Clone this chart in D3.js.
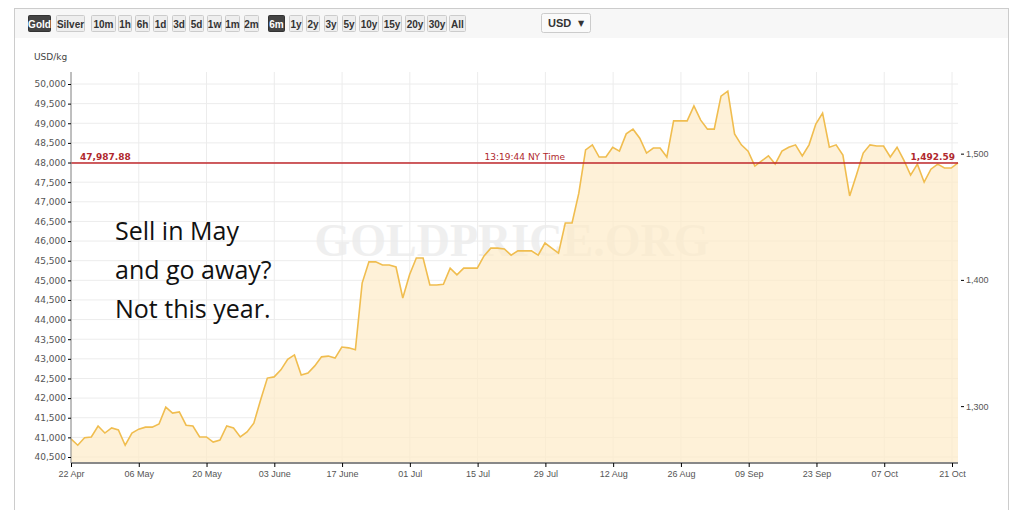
<!DOCTYPE html>
<html><head><meta charset="utf-8">
<script src="https://cdn.jsdelivr.net/npm/d3@7"></script>
<style>body{margin:0;background:#fff;}svg{font-family:"DejaVu Sans",Verdana,sans-serif;}</style>
</head><body>
<svg id="c" width="1024" height="510"></svg>
<script>
const values = [40960,40800,40990,41010,41290,41110,41240,41190,40800,41110,41210,41260,41260,41340,41770,41620,41650,41310,41290,41010,41010,40880,40930,41290,41240,41010,41140,41360,41950,42510,42540,42720,42990,43100,42590,42640,42820,43050,43070,43020,43300,43280,43230,44930,45470,45470,45390,45390,45340,44550,45140,45570,45570,44880,44880,44900,45310,45140,45310,45310,45310,45620,45820,45820,45800,45640,45750,45750,45750,45640,45950,45820,45690,46460,46460,47220,48320,48450,48140,48140,48390,48290,48730,48850,48620,48240,48370,48370,48140,49060,49060,49060,49440,49080,48850,48850,49690,49820,48730,48450,48290,47910,48040,48170,47960,48290,48390,48450,48170,48450,48980,49260,48390,48450,48190,47150,47680,48240,48450,48420,48420,48140,48390,48060,47680,47960,47500,47830,47960,47860,47860,47990];
const tickLabels = ["22 Apr","06 May","20 May","03 June","17 June","01 Jul","15 Jul","29 Jul","12 Aug","26 Aug","09 Sep","23 Sep","07 Oct","21 Oct"];
const leftTicks = [40500,41000,41500,42000,42500,43000,43500,44000,44500,45000,45500,46000,46500,47000,47500,48000,48500,49000,49500,50000];
const rightTicks = [1300,1400,1500];
const buttons = ["Gold","Silver","10m","1h","6h","1d","3d","5d","1w","1m","2m","6m","1y","2y","3y","5y","10y","15y","20y","30y","All"];
const btnX = [28,56,91,118,135,153,172,189,207,225,244,268,289,306,324,342,359,382,405,427,449];
const btnW = [22,28,24,13,14,14,13,14,14,14,14,16,13,13,13,13,19,19,19,19,16];
const currentKg = 47987.88, currentOz = 1492.59;
const annotation = ["Sell in May","and go away?","Not this year."];

const svg = d3.select("#c");
const L=71, R=958, B=463;
const start = new Date(2019,3,22), endTick = new Date(2019,9,21);
const x = d3.scaleTime().domain([start, endTick]).range([71,952]);
const endDate = x.invert(R);
const y = d3.scaleLinear().domain([40500,50000]).range([457,84]);
const yR = d3.scaleLinear().domain([40500/32.1507,50000/32.1507]).range([457,84]);
const dates = values.map((v,i)=>new Date(+start + i*(endDate-start)/(values.length-1)));

// frame
svg.append("rect").attr("x",14.5).attr("y",8.5).attr("width",994).attr("height",510).attr("fill","none").attr("stroke","#ccc");
svg.append("rect").attr("x",15).attr("y",9).attr("width",993).attr("height",29).attr("fill","#f7f7f7");
// buttons
const bg = svg.append("g");
buttons.forEach((b,i)=>{
  const dark = b==="Gold"||b==="6m";
  bg.append("rect").attr("x",btnX[i]+0.5).attr("y",15.5).attr("width",btnW[i]).attr("height",16).attr("rx",1)
    .attr("fill",dark?"#444":"#eee").attr("stroke",dark?"#333":"#ccc");
  bg.append("text").attr("x",btnX[i]+btnW[i]/2+0.5).attr("y",27.5).attr("text-anchor","middle")
    .attr("font-size",10).attr("font-weight","bold").attr("font-family","Liberation Sans,Arial")
    .attr("fill",dark?"#fff":"#333").text(b);
});
bg.append("rect").attr("x",541.5).attr("y",13.5).attr("width",49).attr("height",19).attr("rx",2).attr("fill","#fafafa").attr("stroke","#ccc");
bg.append("text").attr("x",548).attr("y",27).attr("font-size",11).attr("font-weight","bold").attr("font-family","Liberation Sans,Arial").attr("fill","#333").text("USD");
bg.append("text").attr("x",578).attr("y",26).attr("font-size",8).attr("fill","#333").text("▼");

svg.append("text").attr("x",34).attr("y",60).attr("font-size",9).attr("fill","#444").text("USD/kg");

// grid
const dTicks = tickLabels.map((t,i)=>d3.timeDay.offset(start,14*i));
svg.append("g").selectAll("line").data(leftTicks).join("line")
  .attr("x1",L).attr("x2",R).attr("y1",d=>y(d)).attr("y2",d=>y(d)).attr("stroke","#ececec");
svg.append("g").selectAll("line").data(dTicks).join("line")
  .attr("x1",d=>x(d)).attr("x2",d=>x(d)).attr("y1",72).attr("y2",B).attr("stroke","#ececec");

// watermark
svg.append("text").attr("x",512).attr("y",256).attr("text-anchor","middle").attr("font-size",46)
  .attr("font-family","Liberation Serif,serif").attr("font-weight","bold").attr("fill","#ececec").attr("opacity",0.8).text("GOLDPRICE.ORG");

// area + line
const area = d3.area().x((d,i)=>x(dates[i])).y0(B).y1(d=>y(d));
svg.append("path").datum(values).attr("d",area).attr("fill","#fdebc8").attr("opacity",0.7);
const line = d3.line().x((d,i)=>x(dates[i])).y(d=>y(d));
svg.append("path").datum(values).attr("d",line).attr("fill","none").attr("stroke","#f0bd4f").attr("stroke-width",1.6);

// current line
svg.append("line").attr("x1",L).attr("x2",R).attr("y1",y(currentKg)).attr("y2",y(currentKg)).attr("stroke","#c0282d").attr("stroke-width",1.3);
svg.append("text").attr("x",80).attr("y",y(currentKg)-3).attr("font-size",9).attr("font-weight","bold").attr("fill","#b0282d").text(d3.format(",.2f")(currentKg));
svg.append("text").attr("x",955).attr("y",y(currentKg)-3).attr("text-anchor","end").attr("font-size",9).attr("font-weight","bold").attr("fill","#b0282d").text(d3.format(",.2f")(currentOz));
svg.append("text").attr("x",565).attr("y",y(currentKg)-3).attr("text-anchor","end").attr("font-size",9).attr("fill","#b0282d").text("13:19:44 NY Time");

// axes
const ax = svg.append("g").attr("transform",`translate(${L},0)`).call(d3.axisLeft(y).tickValues(leftTicks).tickFormat(d3.format(",")).tickSize(3).tickPadding(2));
ax.select(".domain").attr("d",`M0,72V${B}`).attr("stroke","#888");
ax.selectAll("text").attr("font-size",9).attr("fill","#555").attr("font-family","DejaVu Sans");
const axb = svg.append("g").attr("transform",`translate(0,${B})`).call(d3.axisBottom(x).tickValues(dTicks).tickFormat((d,i)=>tickLabels[i]).tickSize(4).tickPadding(4));
axb.select(".domain").attr("d",`M${L},0H${R}`).attr("stroke","#888").attr("stroke-width",2);
axb.selectAll("text").attr("font-size",9).attr("fill","#555");
const axr = svg.append("g").attr("transform",`translate(${R+3},0)`).call(d3.axisRight(yR).tickValues(rightTicks).tickFormat(d3.format(",")).tickSize(3).tickPadding(2));
axr.select(".domain").remove();
axr.selectAll("text").attr("font-size",9).attr("fill","#555");

// annotation
svg.append("g").selectAll("text").data(annotation).join("text")
  .attr("x",115).attr("y",(d,i)=>240+i*39).attr("font-size",25).attr("font-family","Open Sans, Noto Sans, sans-serif").attr("fill","#111").text(d=>d);
</script></body></html>
